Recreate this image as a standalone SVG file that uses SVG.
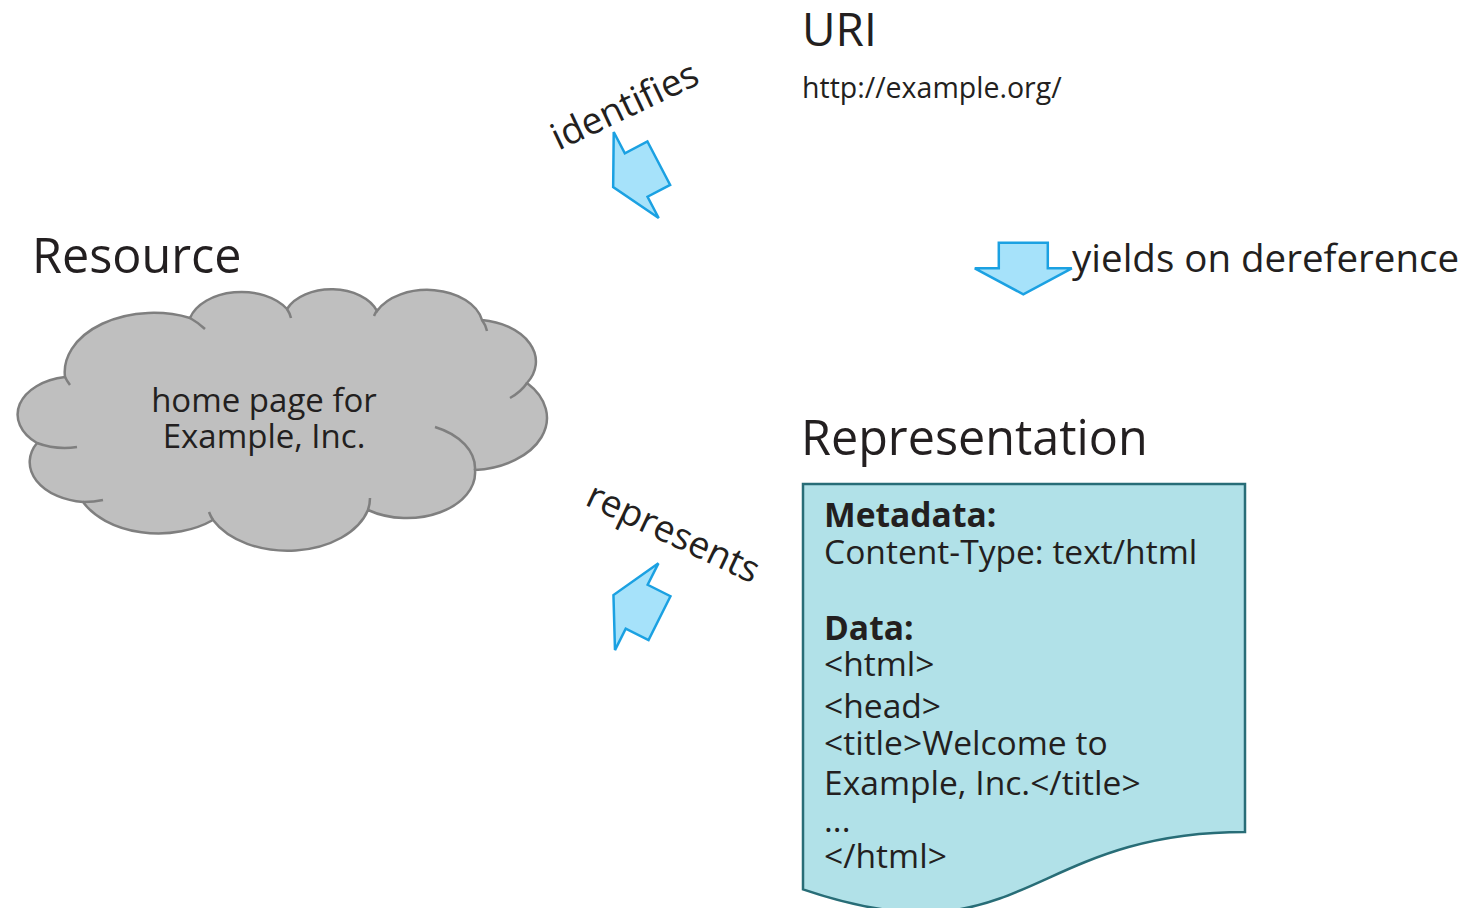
<svg xmlns="http://www.w3.org/2000/svg" width="1463" height="908" viewBox="0 0 1463 908">
  <style>
    text { font-family: "Open Sans", "Noto Sans", "DejaVu Sans", sans-serif; fill: #231f20; }
    .heading { font-size: 48.5px; }
    .label { font-size: 37px; }
    .body { font-size: 33px; }
    .doc-text { font-size: 33.6px; }
    .bold { font-weight: bold; }
    .arrow { fill: #a6e2fa; stroke: #1ba1e2; stroke-width: 2.5; stroke-linejoin: miter; }
    .cloud { fill: #bfbfbf; stroke: #7f7f7f; stroke-width: 2.5; }
    .cloud-tail { fill: none; stroke: #7f7f7f; stroke-width: 2.5; }
    .doc { fill: #b1e1e8; stroke: #286d77; stroke-width: 2.5; }
  </style>
  <defs>
    <!-- block arrow pointing down, origin at the middle of the head base -->
    <path id="blockArrow" d="M-24.5,-25.5 H24.5 V0 H48.5 L0,26 L-48.5,0 H-24.5 Z"/>
  </defs>

  <rect width="1463" height="908" fill="#ffffff"/>

  <!-- URI -->
  <g id="uri">
    <text x="802" y="46" style="font-size:46px">URI</text>
    <text x="802" y="98" style="font-size:28.5px">http://example.org/</text>
  </g>

  <!-- Resource cloud -->
  <g id="resource">
    <text class="heading" x="32" y="273">Resource</text>
    <path class="cloud" d="M37,443
      A57 38 0 0 1 65,377
      A89 59.3 0 0 1 190,318
      A53.4 35.6 0 0 1 287,309
      A48.2 32.1 0 0 1 377,311
      A55.7 37.1 0 0 1 482,320
      A62.8 41.9 0 0 1 527,383
      A78.4 52.3 0 0 1 475,470
      A68.3 45.5 0 0 1 368,510
      A83.4 55.6 0 0 1 213,520
      A84 56.1 0 0 1 83,502
      A60.1 40.1 0 0 1 37,443 Z"/>
    <path class="cloud-tail" d="M37,443 A57 38 0 0 0 77,447
      M65,377 A89 59.3 0 0 0 70,385
      M190,318 A89 59.3 0 0 1 205,329
      M287,309 A53.4 35.6 0 0 1 291,318
      M378,309 A55.7 37.1 0 0 0 374,316
      M482,320 A55.7 37.1 0 0 1 487,331
      M527,383 A62.8 41.9 0 0 1 510,398
      M475,470 A68.3 45.5 0 0 0 435,427
      M368,510 A83.4 55.6 0 0 0 370,498
      M213,520 A83.4 55.6 0 0 1 209,512
      M83,502 A60.1 40.1 0 0 0 103,500"/>
    <text class="body" x="264" y="412" text-anchor="middle">home page for</text>
    <text class="body" x="264" y="448" text-anchor="middle">Example, Inc.</text>
  </g>

  <!-- Representation document -->
  <g id="representation">
    <text class="heading" x="801" y="455">Representation</text>
    <path class="doc" d="M803,484 H1245 V832 C1024,832 1024,964.6 803,889.4 Z"/>
    <text class="doc-text bold" x="824" y="527">Metadata:</text>
    <text class="doc-text" x="824" y="564">Content-Type: text/html</text>
    <text class="doc-text bold" x="824" y="640">Data:</text>
    <text class="doc-text" x="824" y="676">&lt;html&gt;</text>
    <text class="doc-text" x="824" y="718">&lt;head&gt;</text>
    <text class="doc-text" x="824" y="755">&lt;title&gt;Welcome to</text>
    <text class="doc-text" x="824" y="795">Example, Inc.&lt;/title&gt;</text>
    <text class="doc-text" x="824" y="832">...</text>
    <text class="doc-text" x="824" y="868">&lt;/html&gt;</text>
  </g>

  <!-- connectors: block arrows with their labels -->
  <g id="connectors">
    <g id="identifies">
      <use href="#blockArrow" class="arrow" transform="translate(636.2,175) rotate(62.4)"/>
      <text class="label" x="630" y="117" text-anchor="middle" transform="rotate(-25.3 630 117)">identifies</text>
    </g>
    <g id="yields">
      <use href="#blockArrow" class="arrow" transform="translate(1023.3,268.3)"/>
      <text class="label" x="1072" y="272" style="font-size:38.5px">yields on dereference</text>
    </g>
    <g id="represents">
      <use href="#blockArrow" class="arrow" transform="translate(636.7,606.7) rotate(116.6)"/>
      <text class="label" x="668" y="544" text-anchor="middle" transform="rotate(25.2 668 544)">represents</text>
    </g>
  </g>
</svg>
